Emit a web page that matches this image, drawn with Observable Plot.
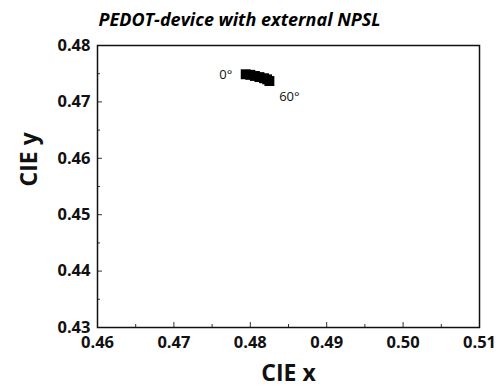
<!DOCTYPE html>
<html>
<head>
<meta charset="utf-8">
<script src="https://cdn.jsdelivr.net/npm/d3@7"></script>
<script src="https://cdn.jsdelivr.net/npm/@observablehq/plot@0.6"></script>
<style>
  html, body { margin: 0; padding: 0; background: #fff; }
  svg { display: block; }
</style>
</head>
<body>
<div id="chart"></div>
<script>
const angles = [0, 10, 20, 30, 40, 50, 60];
const cieX = [0.4794, 0.4800, 0.4806, 0.4812, 0.4818, 0.4822, 0.4825];
const cieY = [0.4749, 0.4748, 0.4746, 0.4744, 0.4742, 0.4740, 0.4737];
const xMajor = [0.46, 0.47, 0.48, 0.49, 0.50, 0.51];
const xMinor = [0.465, 0.475, 0.485, 0.495, 0.505];
const yMajor = [0.43, 0.44, 0.45, 0.46, 0.47, 0.48];
const yMinor = [0.435, 0.445, 0.455, 0.465, 0.475];
const titleText = "PEDOT-device with external NPSL";

const data = angles.map((a, i) => ({angle: a, x: cieX[i], y: cieY[i]}));
const first = data[0], last = data[data.length - 1];
const font = "'Open Sans', Lato, sans-serif";

const plot = Plot.plot({
  width: 501,
  height: 390,
  marginLeft: 97,
  marginRight: 22,
  marginTop: 45,
  marginBottom: 63,
  style: {fontFamily: font, background: "#fff"},
  x: {domain: [0.46, 0.51]},
  y: {domain: [0.43, 0.48]},
  marks: [
    Plot.axisX(xMinor, {tickSize: -3, tickFormat: () => "", stroke: "#333", label: null}),
    Plot.axisY(yMinor, {tickSize: -3, tickFormat: () => "", stroke: "#333", label: null}),
    Plot.axisX(xMajor, {tickSize: -5, tickPadding: 14, tickFormat: d3.format(".2f"), fontSize: 16.5, fontWeight: "bold", fill: "#111", stroke: "#333", label: null}),
    Plot.axisY(yMajor, {tickSize: -5, tickPadding: 12, tickFormat: d3.format(".2f"), fontSize: 16.5, fontWeight: "bold", fill: "#111", stroke: "#333", label: null}),
    Plot.frame({stroke: "#111", strokeWidth: 1.5}),
    Plot.dot(data, {x: "x", y: "y", symbol: "square", r: 5.6, fill: "#000", stroke: null}),
    Plot.text([first], {x: "x", y: "y", text: d => d.angle + "°", dx: -20, dy: 1, fontSize: 13, fill: "#111"}),
    Plot.text([last], {x: "x", y: "y", text: d => d.angle + "°", dx: 20, dy: 16, fontSize: 13, fill: "#111"}),
    Plot.text([titleText], {frameAnchor: "top-left", text: d => d, dx: 1, dy: -25, lineAnchor: "middle", textAnchor: "start", fontSize: 18, fontWeight: "bold", fontStyle: "italic", fill: "#000"}),
    Plot.text(["CIE x"], {frameAnchor: "bottom", text: d => d, dy: 46.5, lineAnchor: "middle", fontSize: 23, fontWeight: "bold", fill: "#111"}),
    Plot.text(["CIE y"], {frameAnchor: "left", text: d => d, dx: -68, rotate: -90, lineAnchor: "middle", fontSize: 23, fontWeight: "bold", fill: "#111"})
  ]
});
document.getElementById("chart").appendChild(plot);
</script>
</body>
</html>
